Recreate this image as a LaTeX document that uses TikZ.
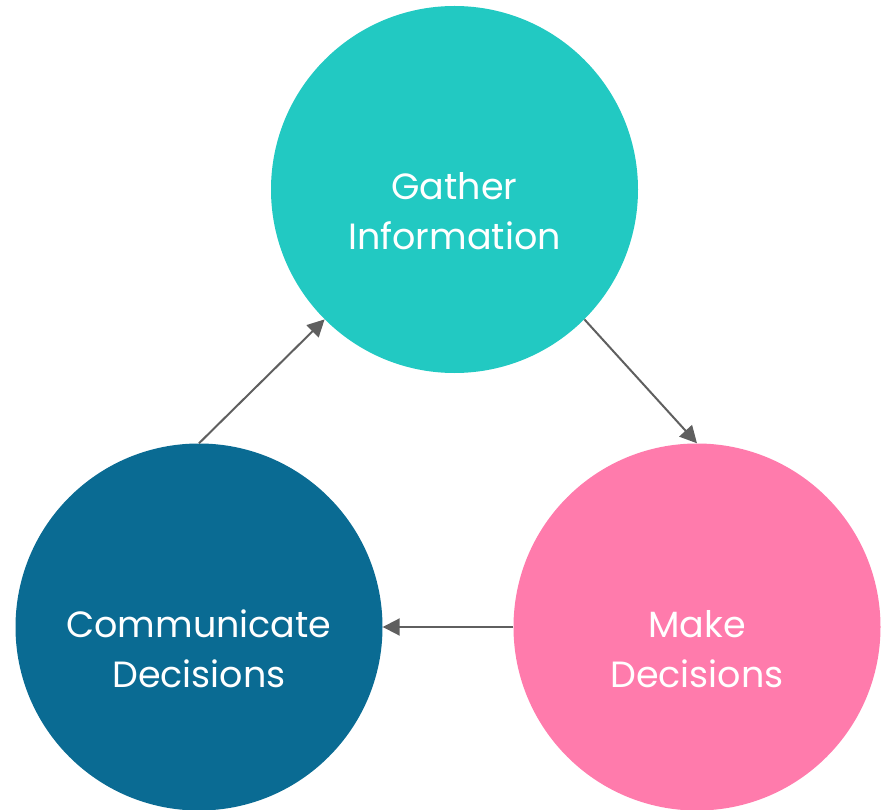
\documentclass[tikz,border=0pt]{standalone}
\usepackage{fontspec}
\setmainfont{Poppins}
\usetikzlibrary{arrows.meta}
\definecolor{cteal}{HTML}{22C9C2}
\definecolor{cblue}{HTML}{0A6B93}
\definecolor{cpink}{HTML}{FF7BAC}
\definecolor{carrow}{HTML}{5F5F5F}
\tikzset{
  stage/.style={circle, minimum size=367pt, inner sep=0pt},
  stagetext/.style={text=white, align=center, inner sep=0pt,
    font=\fontsize{36.5}{50}\selectfont, yshift=-22pt},
  flow/.style={draw=carrow, line width=2pt, -{Triangle[length=17pt,width=17pt]}}
}
\begin{document}
\begin{tikzpicture}[x=1pt,y=-1pt]
\useasboundingbox (0,0) rectangle (881,810);
\node[stage, fill=cteal] (gather) at (454.5,189.5) {};
\node[stage, fill=cpink] (make) at (697,627) {};
\node[stage, fill=cblue] (comm) at (199,627) {};
\node[stagetext] (gathert) at (gather.center) {Gather\\Information};
\node[stagetext] (maket) at (make.center) {Make\\Decisions};
\node[stagetext] (commt) at (comm.center) {Communicate\\Decisions};
\draw[flow] (gather.-45) -- (make.north);
\draw[flow] (make.west) -- (comm.east);
\draw[flow] (comm.north) -- (gather.-135);
\end{tikzpicture}
\end{document}
